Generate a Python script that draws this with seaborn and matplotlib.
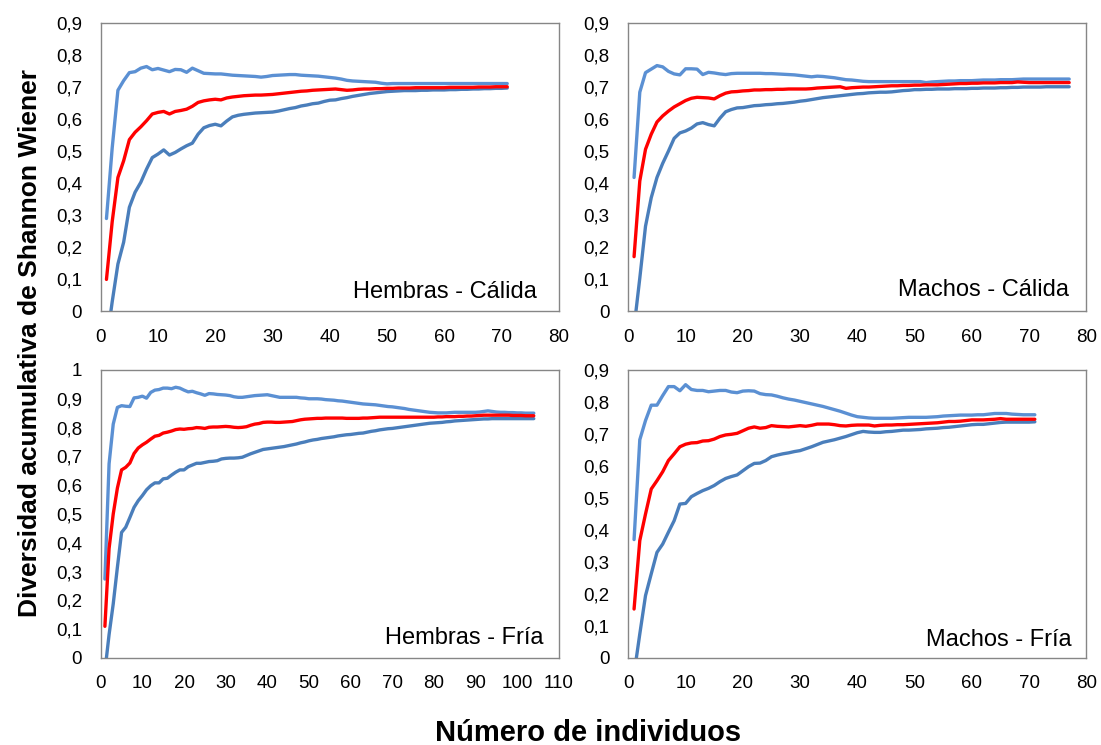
import numpy as np
import pandas as pd
import matplotlib
matplotlib.use("Agg")
import matplotlib.pyplot as plt
from matplotlib.ticker import MultipleLocator, FuncFormatter
import seaborn as sns

# ---------------------------------------------------------------
# Cumulative Shannon-Wiener diversity: mean and confidence limits
# ---------------------------------------------------------------

# Hembras - Cálida (71 individuals)
hc_upper = [0.290, 0.510, 0.690, 0.720, 0.745, 0.748, 0.759, 0.764, 0.754, 0.758,
            0.753, 0.748, 0.755, 0.754, 0.746, 0.759, 0.751, 0.743, 0.742, 0.741,
            0.741, 0.739, 0.737, 0.736, 0.735, 0.734, 0.733, 0.731, 0.733, 0.736,
            0.737, 0.738, 0.739, 0.739, 0.737, 0.736, 0.735, 0.734, 0.732, 0.730,
            0.728, 0.725, 0.721, 0.719, 0.718, 0.717, 0.716, 0.715, 0.712, 0.710,
            0.711, 0.711, 0.711, 0.711, 0.711, 0.711, 0.711, 0.711, 0.711, 0.711,
            0.711, 0.711, 0.711, 0.711, 0.711, 0.711, 0.711, 0.711, 0.711, 0.711,
            0.711]
hc_mean = [0.100, 0.280, 0.418, 0.470, 0.536, 0.559, 0.576, 0.595, 0.616, 0.621,
           0.624, 0.616, 0.624, 0.627, 0.631, 0.640, 0.652, 0.657, 0.660, 0.662,
           0.660, 0.666, 0.669, 0.671, 0.673, 0.674, 0.675, 0.675, 0.676, 0.677,
           0.679, 0.681, 0.683, 0.685, 0.687, 0.688, 0.690, 0.691, 0.692, 0.693,
           0.694, 0.692, 0.690, 0.691, 0.693, 0.694, 0.694, 0.695, 0.695, 0.696,
           0.696, 0.697, 0.697, 0.697, 0.698, 0.698, 0.698, 0.698, 0.698, 0.698,
           0.699, 0.699, 0.699, 0.699, 0.699, 0.700, 0.700, 0.700, 0.701, 0.701,
           0.701]
hc_lower = [-0.100, 0.030, 0.148, 0.216, 0.325, 0.372, 0.403, 0.444, 0.480, 0.491,
            0.504, 0.488, 0.496, 0.507, 0.517, 0.525, 0.553, 0.573, 0.580, 0.584,
            0.579, 0.594, 0.607, 0.612, 0.615, 0.617, 0.619, 0.620, 0.621, 0.622,
            0.625, 0.629, 0.633, 0.636, 0.641, 0.644, 0.648, 0.650, 0.655, 0.659,
            0.660, 0.664, 0.667, 0.671, 0.674, 0.677, 0.680, 0.682, 0.684, 0.686,
            0.687, 0.688, 0.689, 0.689, 0.689, 0.690, 0.690, 0.691, 0.691, 0.691,
            0.692, 0.692, 0.693, 0.693, 0.694, 0.694, 0.695, 0.695, 0.696, 0.696,
            0.697]

# Machos - Cálida (77 individuals)
mc_upper = [0.418, 0.684, 0.745, 0.756, 0.767, 0.763, 0.749, 0.741, 0.738, 0.757,
            0.757, 0.756, 0.739, 0.746, 0.744, 0.741, 0.739, 0.742, 0.743, 0.743,
            0.743, 0.743, 0.743, 0.742, 0.742, 0.741, 0.740, 0.739, 0.738, 0.736,
            0.734, 0.732, 0.734, 0.733, 0.731, 0.729, 0.726, 0.723, 0.722, 0.720,
            0.718, 0.717, 0.717, 0.717, 0.717, 0.717, 0.717, 0.717, 0.717, 0.717,
            0.717, 0.714, 0.716, 0.717, 0.718, 0.719, 0.719, 0.720, 0.720, 0.720,
            0.721, 0.722, 0.722, 0.722, 0.723, 0.723, 0.723, 0.724, 0.725, 0.725,
            0.725, 0.725, 0.725, 0.725, 0.725, 0.725, 0.725]
mc_mean = [0.171, 0.407, 0.506, 0.553, 0.591, 0.610, 0.625, 0.638, 0.648, 0.658,
           0.665, 0.668, 0.667, 0.666, 0.663, 0.673, 0.681, 0.685, 0.686, 0.688,
           0.689, 0.691, 0.691, 0.692, 0.692, 0.693, 0.693, 0.694, 0.694, 0.694,
           0.694, 0.695, 0.697, 0.698, 0.699, 0.700, 0.701, 0.696, 0.698, 0.699,
           0.700, 0.700, 0.701, 0.702, 0.703, 0.704, 0.704, 0.705, 0.705, 0.706,
           0.706, 0.707, 0.707, 0.707, 0.708, 0.709, 0.710, 0.711, 0.711, 0.712,
           0.712, 0.713, 0.713, 0.713, 0.714, 0.714, 0.714, 0.716, 0.715, 0.714,
           0.714, 0.714, 0.714, 0.714, 0.714, 0.714, 0.714]
mc_lower = [-0.050, 0.104, 0.266, 0.355, 0.418, 0.462, 0.500, 0.540, 0.557, 0.563,
            0.572, 0.585, 0.589, 0.583, 0.579, 0.603, 0.623, 0.630, 0.635, 0.636,
            0.639, 0.642, 0.643, 0.645, 0.646, 0.648, 0.649, 0.651, 0.653, 0.656,
            0.658, 0.661, 0.664, 0.667, 0.669, 0.671, 0.673, 0.675, 0.677, 0.679,
            0.680, 0.682, 0.683, 0.684, 0.684, 0.685, 0.687, 0.689, 0.690, 0.692,
            0.692, 0.693, 0.693, 0.694, 0.694, 0.694, 0.695, 0.695, 0.695, 0.696,
            0.696, 0.697, 0.697, 0.697, 0.698, 0.698, 0.699, 0.699, 0.700, 0.700,
            0.700, 0.700, 0.701, 0.701, 0.701, 0.701, 0.701]

# Hembras - Fría (104 individuals)
hf_upper = [0.274, 0.674, 0.812, 0.870, 0.876, 0.874, 0.873, 0.903, 0.905, 0.909,
            0.902, 0.922, 0.930, 0.932, 0.937, 0.937, 0.935, 0.940, 0.937, 0.930,
            0.924, 0.926, 0.921, 0.917, 0.912, 0.918, 0.917, 0.915, 0.914, 0.913,
            0.911, 0.907, 0.905, 0.905, 0.907, 0.909, 0.911, 0.912, 0.913, 0.914,
            0.911, 0.908, 0.905, 0.905, 0.905, 0.905, 0.905, 0.903, 0.902, 0.900,
            0.900, 0.900, 0.899, 0.897, 0.896, 0.895, 0.893, 0.892, 0.890, 0.888,
            0.886, 0.884, 0.882, 0.881, 0.880, 0.879, 0.877, 0.875, 0.873, 0.872,
            0.870, 0.868, 0.866, 0.863, 0.861, 0.859, 0.857, 0.855, 0.853, 0.852,
            0.851, 0.851, 0.851, 0.852, 0.853, 0.853, 0.853, 0.853, 0.853, 0.853,
            0.854, 0.856, 0.858, 0.856, 0.854, 0.853, 0.853, 0.852, 0.852, 0.851,
            0.851, 0.850, 0.850, 0.850]
hf_mean = [0.110, 0.380, 0.500, 0.590, 0.653, 0.662, 0.677, 0.710, 0.729, 0.740,
           0.749, 0.760, 0.770, 0.773, 0.781, 0.784, 0.788, 0.793, 0.795, 0.794,
           0.796, 0.797, 0.800, 0.799, 0.797, 0.801, 0.802, 0.802, 0.803, 0.804,
           0.803, 0.801, 0.800, 0.801, 0.803, 0.808, 0.812, 0.814, 0.818, 0.819,
           0.819, 0.818, 0.818, 0.819, 0.820, 0.821, 0.824, 0.827, 0.829, 0.830,
           0.831, 0.832, 0.832, 0.833, 0.833, 0.833, 0.833, 0.833, 0.832, 0.832,
           0.832, 0.832, 0.833, 0.833, 0.834, 0.835, 0.836, 0.836, 0.836, 0.836,
           0.836, 0.836, 0.836, 0.836, 0.836, 0.836, 0.836, 0.836, 0.836, 0.836,
           0.837, 0.837, 0.838, 0.838, 0.838, 0.839, 0.839, 0.840, 0.840, 0.841,
           0.842, 0.843, 0.843, 0.843, 0.843, 0.843, 0.843, 0.843, 0.842, 0.842,
           0.842, 0.841, 0.841, 0.841]
hf_lower = [-0.046, 0.081, 0.188, 0.315, 0.436, 0.454, 0.488, 0.523, 0.546, 0.564,
            0.584, 0.598, 0.608, 0.608, 0.622, 0.624, 0.635, 0.645, 0.653, 0.653,
            0.664, 0.670, 0.676, 0.676, 0.679, 0.682, 0.683, 0.685, 0.691, 0.693,
            0.694, 0.694, 0.695, 0.697, 0.703, 0.709, 0.714, 0.719, 0.724, 0.726,
            0.728, 0.730, 0.732, 0.734, 0.737, 0.740, 0.743, 0.747, 0.750, 0.754,
            0.757, 0.759, 0.762, 0.764, 0.766, 0.768, 0.771, 0.773, 0.775, 0.776,
            0.778, 0.780, 0.781, 0.784, 0.787, 0.789, 0.792, 0.794, 0.796, 0.797,
            0.799, 0.801, 0.803, 0.805, 0.807, 0.809, 0.811, 0.813, 0.815, 0.816,
            0.817, 0.818, 0.820, 0.821, 0.823, 0.824, 0.825, 0.826, 0.827, 0.828,
            0.829, 0.830, 0.830, 0.831, 0.831, 0.831, 0.831, 0.831, 0.831, 0.831,
            0.831, 0.831, 0.831, 0.831]

# Machos - Fría (71 individuals)
mf_upper = [0.370, 0.682, 0.742, 0.790, 0.790, 0.820, 0.848, 0.848, 0.835, 0.854,
            0.839, 0.836, 0.836, 0.832, 0.834, 0.836, 0.836, 0.831, 0.829, 0.834,
            0.835, 0.834, 0.826, 0.823, 0.822, 0.818, 0.813, 0.809, 0.806, 0.802,
            0.798, 0.794, 0.790, 0.786, 0.781, 0.776, 0.771, 0.765, 0.759, 0.754,
            0.752, 0.750, 0.749, 0.749, 0.749, 0.749, 0.750, 0.751, 0.752, 0.752,
            0.752, 0.752, 0.753, 0.754, 0.756, 0.757, 0.758, 0.759, 0.759, 0.759,
            0.760, 0.760, 0.762, 0.764, 0.764, 0.764, 0.762, 0.761, 0.760, 0.760,
            0.760]
mf_mean = [0.153, 0.367, 0.450, 0.528, 0.554, 0.582, 0.617, 0.638, 0.660, 0.668,
           0.672, 0.673, 0.678, 0.679, 0.684, 0.692, 0.697, 0.699, 0.702, 0.710,
           0.718, 0.722, 0.718, 0.720, 0.726, 0.724, 0.723, 0.722, 0.724, 0.726,
           0.724, 0.727, 0.731, 0.731, 0.731, 0.729, 0.726, 0.725, 0.727, 0.728,
           0.728, 0.728, 0.725, 0.727, 0.728, 0.728, 0.729, 0.729, 0.730, 0.731,
           0.732, 0.733, 0.734, 0.735, 0.737, 0.739, 0.739, 0.740, 0.742, 0.744,
           0.744, 0.744, 0.745, 0.746, 0.748, 0.746, 0.746, 0.746, 0.746, 0.746,
           0.746]
mf_lower = [-0.050, 0.075, 0.195, 0.263, 0.330, 0.356, 0.393, 0.429, 0.481, 0.483,
            0.504, 0.514, 0.523, 0.530, 0.539, 0.551, 0.561, 0.567, 0.572, 0.585,
            0.598, 0.608, 0.609, 0.617, 0.629, 0.634, 0.638, 0.641, 0.645, 0.648,
            0.654, 0.660, 0.667, 0.674, 0.678, 0.682, 0.687, 0.692, 0.698, 0.704,
            0.708, 0.706, 0.705, 0.705, 0.707, 0.708, 0.710, 0.712, 0.712, 0.713,
            0.714, 0.716, 0.717, 0.718, 0.720, 0.721, 0.723, 0.725, 0.727, 0.729,
            0.730, 0.730, 0.732, 0.734, 0.736, 0.737, 0.737, 0.737, 0.737, 0.737,
            0.738]

panel_titles = ["Hembras - Cálida", "Machos - Cálida", "Hembras - Fría", "Machos - Fría"]
y_label = "Diversidad acumulativa de Shannon Wiener"
x_label = "Número de individuos"

panels = [
    dict(title=panel_titles[0], upper=hc_upper, mean=hc_mean, lower=hc_lower,
         xmax=80, ymax=0.9, rect=[0.0915, 0.5819, 0.416, 0.3873], tx=0.952, ty=0.046),
    dict(title=panel_titles[1], upper=mc_upper, mean=mc_mean, lower=mc_lower,
         xmax=80, ymax=0.9, rect=[0.5707, 0.5819, 0.416, 0.3873], tx=0.962, ty=0.054),
    dict(title=panel_titles[2], upper=hf_upper, mean=hf_mean, lower=hf_lower,
         xmax=110, ymax=1.0, rect=[0.0915, 0.1168, 0.416, 0.3866], tx=0.966, ty=0.048),
    dict(title=panel_titles[3], upper=mf_upper, mean=mf_mean, lower=mf_lower,
         xmax=80, ymax=0.9, rect=[0.5707, 0.1168, 0.416, 0.3866], tx=0.968, ty=0.040),
]

sns.set_style("white")
plt.rcParams["font.family"] = ["Liberation Sans", "DejaVu Sans"]

UPPER_BLUE = "#5B90D3"
LOWER_BLUE = "#4A7EBB"
RED = "#FF0000"
FRAME = "#868686"


def comma_fmt(v, pos):
    if abs(v) < 1e-9:
        return "0"
    if abs(v - round(v)) < 1e-9:
        return f"{int(round(v))}"
    return f"{v:.1f}".replace(".", ",")


fig = plt.figure(figsize=(11.01, 7.45), dpi=100)

for p in panels:
    ax = fig.add_axes(p["rect"])
    n = np.arange(1, len(p["mean"]) + 1)
    df = pd.DataFrame({"n": n, "upper": p["upper"], "mean": p["mean"], "lower": p["lower"]})
    sns.lineplot(data=df, x="n", y="upper", ax=ax, color=UPPER_BLUE, linewidth=2.4, sort=False)
    sns.lineplot(data=df, x="n", y="lower", ax=ax, color=LOWER_BLUE, linewidth=2.4, sort=False)
    sns.lineplot(data=df, x="n", y="mean", ax=ax, color=RED, linewidth=2.4, sort=False)

    ax.set_xlim(0, p["xmax"])
    ax.set_ylim(0, p["ymax"])
    ax.xaxis.set_major_locator(MultipleLocator(10))
    ax.xaxis.set_minor_locator(MultipleLocator(2))
    ax.yaxis.set_major_locator(MultipleLocator(0.1))
    ax.yaxis.set_major_formatter(FuncFormatter(comma_fmt))
    ax.xaxis.set_major_formatter(FuncFormatter(lambda v, pos: f"{int(round(v))}"))
    ax.set_xlabel("")
    ax.set_ylabel("")

    for s in ax.spines.values():
        s.set_visible(True)
        s.set_color(FRAME)
        s.set_linewidth(1.0)

    ax.tick_params(axis="both", which="both", direction="out", color=FRAME,
                   width=1.0, labelsize=13.5, labelcolor="black")
    ax.tick_params(axis="x", which="major", length=4, pad=8.5)
    ax.tick_params(axis="x", which="minor", length=4)
    ax.tick_params(axis="y", which="major", length=4.5, pad=9)

    ax.text(p["tx"], p["ty"], p["title"], transform=ax.transAxes,
            ha="right", va="baseline", fontsize=17, color="black")

fig.text(0.027, 0.540, y_label, rotation=90, ha="center", va="center",
         fontsize=19, fontweight="bold", color="black")
fig.text(0.534, 0.0165, x_label, ha="center", va="center",
         fontsize=21, fontweight="bold", color="black")

fig.savefig("out.png", dpi=100, facecolor="white")
